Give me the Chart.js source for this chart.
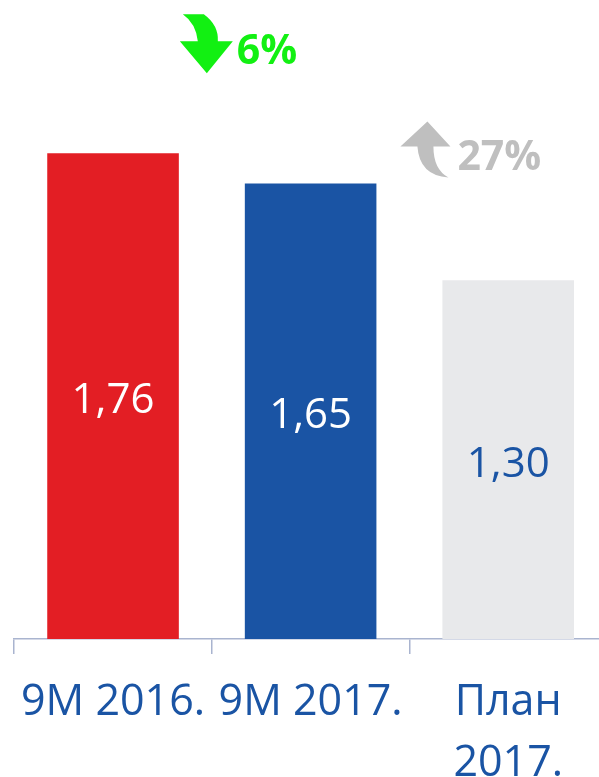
<!DOCTYPE html>
<html>
<head>
<meta charset="utf-8">
<script src="https://cdn.jsdelivr.net/npm/chart.js@4"></script>
<style>
    html, body { margin: 0; padding: 0; background: #fff; overflow: hidden; }
    #wrap { position: relative; width: 611px; height: 777px; }
</style>
</head>
<body>
<div id="wrap"><canvas id="barChart"></canvas></div>
<script>
// Data
const categories = ['9M 2016.', '9M 2017.', ['План', '2017.']];
const values = [1.76, 1.65, 1.30];
const barColors = ['#e31e24', '#1a54a4', '#e8e9eb'];
const labelColors = ['#ffffff', '#ffffff', '#1a54a4'];

// Change markers between bars: [text, direction]
const changes = [['6%', 'down'], ['27%', 'up']];

const fmt = (v) => v.toFixed(2).replace('.', ',');

// Draws the value inside each bar
const valueLabels = {
    id: 'valueLabels',
    afterDatasetsDraw(chart) {
        const ctx = chart.ctx;
        const meta = chart.getDatasetMeta(0);
        ctx.save();
        ctx.font = '42px "Open Sans"';
        ctx.textAlign = 'center';
        ctx.textBaseline = 'middle';
        meta.data.forEach((bar, i) => {
            ctx.fillStyle = labelColors[i];
            ctx.fillText(fmt(values[i]), bar.x, (bar.y + bar.base) / 2 + 5);
        });
        ctx.restore();
    }
};

// Curved arrows with percentage change
const changeMarkers = {
    id: 'changeMarkers',
    afterDraw(chart) {
        const ctx = chart.ctx;
        const bars = chart.getDatasetMeta(0).data;
        ctx.save();
        changes.forEach(([text, dir], i) => {
            const left = bars[i], right = bars[i + 1];
            const gx = (left.x + left.width / 2 + right.x - right.width / 2) / 2;
            const y0 = left.y; // top of the bar before the gap
            ctx.fillStyle = dir === 'down' ? '#12f012' : '#bfbfbf';
            ctx.beginPath();
            if (dir === 'down') {
                ctx.moveTo(gx - 29, y0 - 139);
                ctx.lineTo(gx - 8, y0 - 139);
                ctx.quadraticCurveTo(gx + 7, y0 - 128, gx + 6, y0 - 112);
                ctx.lineTo(gx + 21, y0 - 112);
                ctx.lineTo(gx - 5, y0 - 80);
                ctx.lineTo(gx - 32, y0 - 112);
                ctx.lineTo(gx - 14, y0 - 112);
                ctx.quadraticCurveTo(gx - 16, y0 - 130, gx - 29, y0 - 139);
            } else {
                ctx.moveTo(gx + 18, y0 - 62);
                ctx.lineTo(gx + 41, y0 - 37);
                ctx.lineTo(gx + 24, y0 - 37);
                ctx.quadraticCurveTo(gx + 24, y0 - 14, gx + 39, y0 - 6);
                ctx.quadraticCurveTo(gx + 10, y0 - 8, gx + 8, y0 - 37);
                ctx.lineTo(gx - 9, y0 - 37);
            }
            ctx.closePath();
            ctx.fill();
            ctx.font = 'bold 41px "Open Sans"';
            ctx.textAlign = 'left';
            ctx.textBaseline = 'alphabetic';
            if (dir === 'down') ctx.fillText(text, gx + 25, y0 - 89);
            else ctx.fillText(text, gx + 48, y0 - 14);
        });
        ctx.restore();
    }
};

const ctx = document.getElementById('barChart').getContext('2d');
new Chart(ctx, {
    type: 'bar',
    data: {
        labels: categories,
        datasets: [{
            data: values,
            backgroundColor: barColors,
            borderWidth: 0,
            categoryPercentage: 1,
            barPercentage: 0.666
        }]
    },
    options: {
        responsive: true,
        maintainAspectRatio: false,
        animation: false,
        layout: { padding: { left: 12, right: 4, top: 0, bottom: 0 } },
        plugins: {
            legend: { display: false },
            tooltip: { enabled: false }
        },
        scales: {
            x: {
                afterFit: (s) => { s.height = 138; },
                border: { display: true, color: '#a9b4cf', width: 1.5 },
                grid: {
                    offset: true,
                    drawOnChartArea: false,
                    drawTicks: true,
                    tickLength: 15,
                    color: '#a9b4cf',
                    lineWidth: 1.5
                },
                ticks: {
                    color: '#1a54a4',
                    font: { family: '"Open Sans"', size: 43, lineHeight: 1.4 },
                    padding: 19,
                    maxRotation: 0,
                    autoSkip: false
                }
            },
            y: {
                display: false,
                min: 0,
                max: 2.315
            }
        }
    },
    plugins: [valueLabels, changeMarkers]
});
</script>
</body>
</html>
